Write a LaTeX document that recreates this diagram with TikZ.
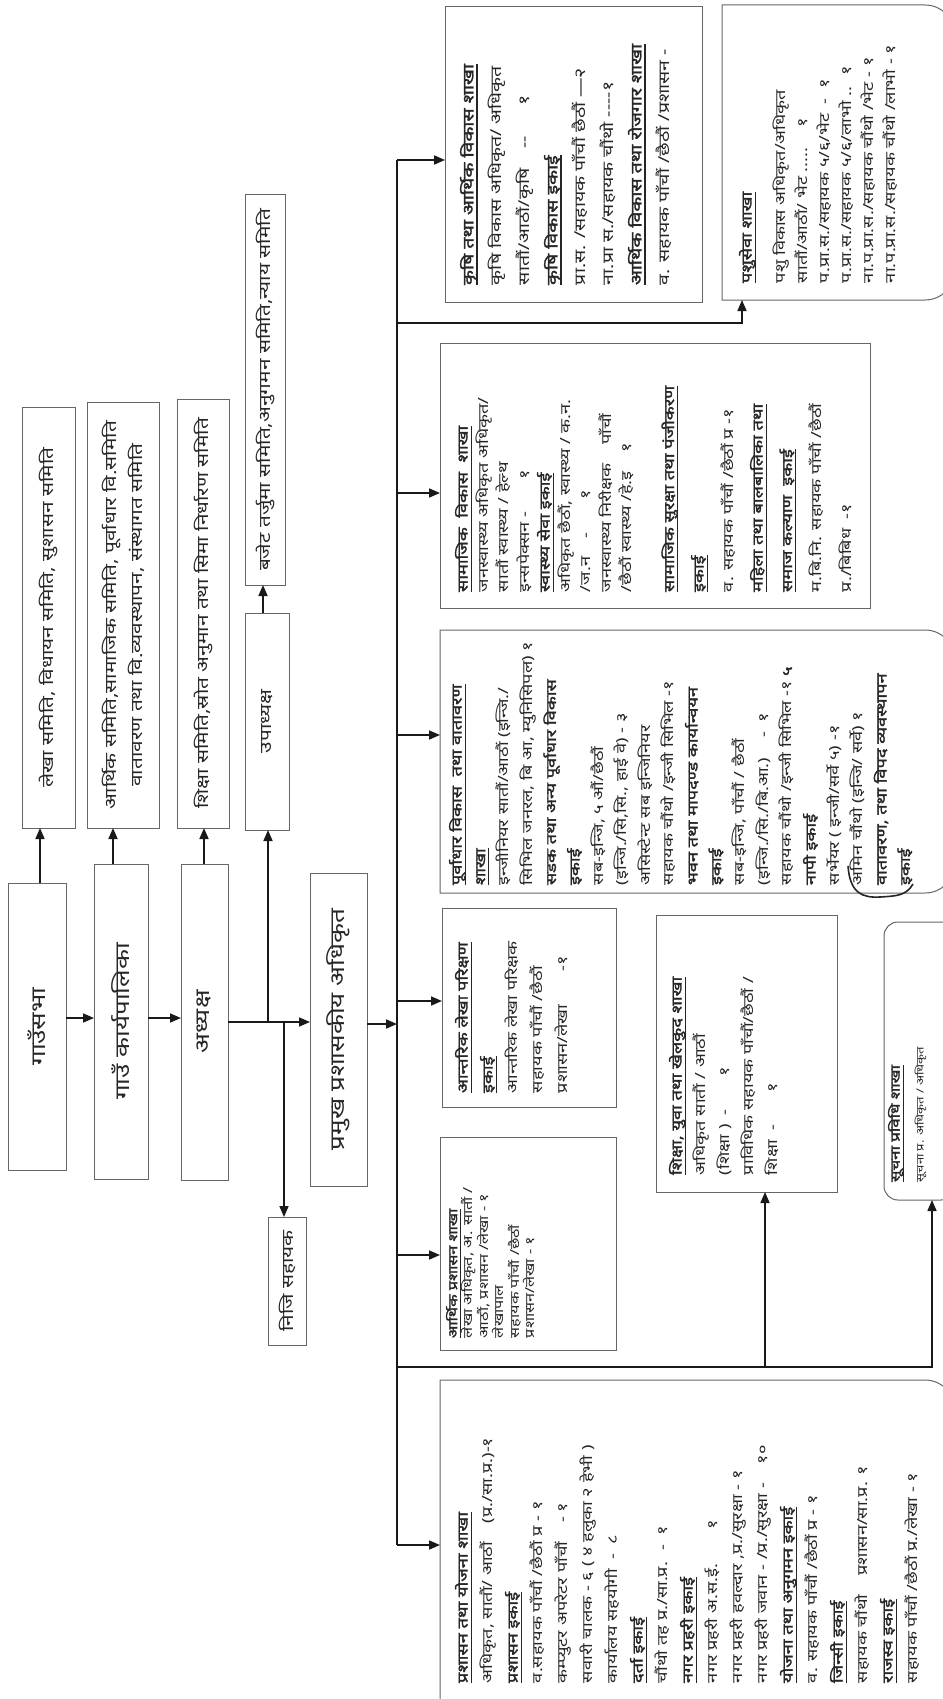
\documentclass[tikz,border=0pt]{standalone}
\usepackage{fontspec}
\setmainfont{Noto Sans}[Script=Devanagari]
\newfontfamily\wide{Noto Sans}[Script=Devanagari,FakeStretch=1.3,BoldFont={Noto Sans},BoldFeatures={FakeBold=2.2}]
\usetikzlibrary{arrows.meta,calc}
\newcommand\hd[1]{\setbox0\hbox{\bfseries #1}\leavevmode\rlap{\rule[-4.2pt]{\wd0}{1.2pt}}\box0}
\newcommand\bh[1]{{\bfseries #1}}
\newcommand\mkbox[6][]{\node[boxst,#1,minimum width={(#5-#3)*1pt},minimum height={(#6-#4)*1pt}] (#2) at ({(#3+#5)/2},{(#4+#6)/2}) {};}
\newcommand\rbox[2]{\draw[boxline] (#1.north west) [rounded corners=#2] -- (#1.north east) -- (#1.south east) [sharp corners] -- (#1.south west) -- cycle;}
\tikzset{
  boxline/.style={draw=black!60, line width=1pt},
  boxst/.style={boxline, inner sep=0pt, outer sep=0pt},
  conn/.style={line width=1.6pt, draw=black!90},
  arr/.style={conn, -{Triangle[length=11pt,width=9pt]}},
  vt/.style={rotate=90, anchor=north west, inner sep=0pt, outer sep=0pt, align=left, text=black!85},
  ctext/.style={rotate=90, inner sep=0pt, align=center, text=black!85},
  chainfont/.style={font={\wide\fontsize{20}{26}\selectfont}},
  comfont/.style={font={\wide\fontsize{16}{26}\selectfont}},
}
\begin{document}
\begin{tikzpicture}[x=1pt,y=-1pt]
\useasboundingbox (0,0) rectangle (942,1699);
\fill[white] (0,0) rectangle (942,1699);

% ---- upper chain ----
\mkbox{sabha}{8}{883}{66}{1170}
\mkbox{karya}{94}{864}{148}{1179}
\mkbox{adhy}{181}{864}{228}{1180}
\mkbox{pramukh}{310}{873}{367}{1186}
\mkbox{upa}{245}{613}{289}{830}
\mkbox{niji}{268}{1217}{306}{1345}
\mkbox{lekhas}{22}{407}{75}{828}
\mkbox{arths}{87}{402}{159}{828}
\mkbox{shiks}{177}{399}{229}{828}
\mkbox{bajet}{245}{195}{285}{585}

\node[ctext,chainfont] (sabha-t) at (sabha) {गाउँसभा};
\node[ctext,chainfont] (karya-t) at (karya) {गाउँ कार्यपालिका};
\node[ctext,chainfont] (adhy-t) at (adhy) {अध्यक्ष};
\node[ctext,chainfont] (pramukh-t) at (pramukh) {प्रमुख प्रशासकीय अधिकृत};
\node[ctext,comfont] (upa-t) at (upa) {उपाध्यक्ष};
\node[ctext,comfont] (niji-t) at (niji) {निजि सहायक};
\node[ctext,comfont] (lekhas-t) at (lekhas) {लेखा समिति, विधायन समिति, सुशासन समिति};
\node[ctext,comfont] (arths-t) at (arths) {आर्थिक समिति,सामाजिक समिति, पूर्वाधार वि.समिति\\वातावरण तथा वि.व्यवस्थापन, संस्थागत समिति};
\node[ctext,comfont] (shiks-t) at (shiks) {शिक्षा समिति,स्रोत अनुमान तथा सिमा निर्धारण समिति};
\node[ctext,comfont] (bajet-t) at (bajet) {बजेट तर्जुमा समिति,अनुगमन समिति,न्याय समिति};

\coordinate (r1) at (0,1018);
\coordinate (r2) at (0,1022);
\coordinate (j1) at (268,1022);
\coordinate (j2) at (284,1022);
\draw[arr] (sabha.east |- r1) -- (karya.west |- r1);
\draw[arr] (karya.east |- r1) -- (adhy.west |- r1);
\draw[arr] (adhy.east |- r2) -- (pramukh.west |- r2);
\draw[arr] (j1) -- (j1 |- upa.south);
\draw[arr] (j2) -- (j2 |- niji.north);
\draw[arr] (sabha.north -| 40,0) -- (lekhas.south -| 40,0);
\draw[arr] (karya.north -| 113,0) -- (arths.south -| 113,0);
\draw[arr] (adhy.north -| 204,0) -- (shiks.south -| 204,0);
\draw[arr] (upa.north -| 263,0) -- (bajet.south -| 263,0);

% ---- lower boxes ----
\mkbox{krishi}{445}{7}{702}{302}
\mkbox[draw=none]{pashu}{722}{5}{955}{300}
\rbox{pashu}{30pt}
\mkbox{samaj}{440}{343}{870}{608}
\mkbox[draw=none]{purva}{440}{630}{955}{893}
\rbox{purva}{30pt}
\mkbox{antarik}{442}{908}{616}{1107}
\mkbox{shiksha}{656}{915}{837}{1192}
\mkbox[draw=none]{suchana}{884}{922}{955}{1200}
\draw[boxline,rounded corners=14pt] (suchana.north west) rectangle (suchana.south east);
\mkbox{arthik}{440}{1137}{616}{1350}
\mkbox[draw=none]{prashasan}{440}{1380}{955}{1730}
\rbox{prashasan}{30pt}

% ---- bus ----
\coordinate (btop) at (397,160);
\coordinate (bbot) at (397,1545);
\coordinate (bp) at (397,1024);
\coordinate (b2) at (397,493);
\coordinate (b3) at (397,735);
\coordinate (b4) at (397,1001);
\coordinate (b5) at (397,1255);
\coordinate (bl1) at (397,323);
\coordinate (bl2) at (397,1367);
\draw[conn,line width=2pt] (btop) -- (bbot);
\draw[arr] (pramukh.east |- bp) -- (bp);
\draw[arr] (btop) -- (btop -| krishi.west);
\draw[arr] (b2) -- (b2 -| samaj.west);
\draw[arr] (b3) -- (b3 -| purva.west);
\draw[arr] (b4) -- (b4 -| antarik.west);
\draw[arr] (b5) -- (b5 -| arthik.west);
\draw[arr] (bbot) -- (bbot -| prashasan.west);
\draw[arr] (bl1) -| (pashu.south -| 742,0);
\draw[arr] (bl2) -| (suchana.south -| 932,0);
\draw[arr] (bl2 -| 765,0) -- (shiksha.south -| 765,0);

% ---- box texts ----
\node[vt,font={\wide\fontsize{15}{28}\selectfont}] (krishi-t) at (460,285) {%
\hd{कृषि तथा आर्थिक विकास शाखा}\\
कृषि विकास अधिकृत/ अधिकृत\\
सातौं/आठौं/कृषि \quad --\qquad १\\
\hd{कृषि विकास इकाई}\\
प्रा.स. /सहायक पाँचौं छैठौं —२\\
ना.प्रा स./सहायक चौंथो ----१\\
\hd{आर्थिक विकास तथा रोजगार शाखा}\\
व. सहायक पाँचौं /छैठौं /प्रशासन -};

\node[vt,font={\wide\fontsize{14}{22}\selectfont}] (pashu-t) at (739,283) {%
\hd{पशुसेवा शाखा}\\[12pt]
पशु विकास अधिकृत/अधिकृत\\
सातौं/आठौं/ भेट ..... \quad १\\
प.प्रा.स./सहायक ५/६/भेट \ - \ १\\
प.प्रा.स./सहायक ५/६/लाभो .. \ १\\
ना.प.प्रा.स./सहायक चौंथो /भेट - १\\
ना.प.प्रा.स./सहायक चौंथो /लाभो - १};

\node[vt,font={\wide\fontsize{14}{20.5}\selectfont}] (samaj-t) at (455,592) {%
\hd{सामाजिक \ विकास \ शाखा}\\
जनस्वास्थ्य अधिकृत अधिकृत/\\
सातौं स्वास्थ्य / हेल्थ\\
इन्सपेक्सन - \qquad १\\
\hd{स्वास्थ्य सेवा इकाई}\\
अधिकृत छैठौं, स्वास्थ्य / क.न.\\
/ज.न \quad - \qquad १\\
जनस्वास्थ्य निरीक्षक \quad पाँचौं\\
/छैठौं स्वास्थ्य /हे.इ \quad १\\[22pt]
\hd{सामाजिक सुरक्षा तथा पंजीकरण}\\[9pt]
\hd{इकाई}\\[9pt]
व. सहायक पाँचौं /छैठौं प्र -१\\[9pt]
\hd{महिला तथा बालबालिका तथा}\\[9pt]
\hd{समाज कल्याण \ इकाई}\\[9pt]
म.बि.नि. सहायक पाँचौं /छैठौं\\[9pt]
प्र./बिबिध \ -१};

\node[vt,font={\wide\fontsize{14}{23.6}\selectfont}] (purva-t) at (449,885) {%
\hd{पूर्वाधार विकास \ तथा वातावरण}\\
\hd{शाखा}\\
इन्जीनियर सातौं/आठौं (इन्जि./\\
सिभिल जनरल, बि आ, म्युनिसिपल) १\\
\bh{सडक तथा अन्य पूर्वाधार विकास}\\
\bh{इकाई}\\
सब-इन्जि, ५ औं/छैठौं\\
(इन्जि./सि,सि., हाई वे) - ३\\
असिस्टेन्ट सब इन्जिनियर\\
सहायक चौंथो /इन्जी सिभिल -१\\
\bh{भवन तथा मापदण्ड कार्यान्वयन}\\
\bh{इकाई}\\
सब-इन्जि, पाँचौं / छैठौं\\
(इन्जि./सि./बि.आ.) \quad - \ १\\
सहायक चौंथो /इन्जी सिभिल -१ \textbf{५}\\
\bh{नापी इकाई}\\
सर्भेयर ( इन्जी/सर्वे ५) -१\\
अमिन चौंथो (इन्जि/ सर्वे) १\\
\bh{वातावरण, तथा विपद व्यवस्थापन}\\
\bh{इकाई}};
\draw[line width=1.6pt,black!85] (848,866) .. controls (850,893) and (862,898) .. (880,897) .. controls (896,896) and (906,896) .. (913,884);

\node[vt,font={\wide\fontsize{14}{25}\selectfont}] (antarik-t) at (455,1093) {%
\hd{आन्तरिक लेखा परिक्षण}\\
\hd{इकाई}\\
आन्तरिक लेखा परिक्षक\\
सहायक पाँचौं /छैठौं\\
प्रशासन/लेखा \qquad -१};

\node[vt,font={\wide\fontsize{14}{24}\selectfont}] (shiksha-t) at (669,1175) {%
\hd{शिक्षा, युवा तथा खेलकुद शाखा}\\
अधिकृत सातौं / आठौं\\
(शिक्षा ) \ - \qquad १\\
प्राविधिक सहायक पाँचौं/छैठौं /\\
शिक्षा \ - \qquad १};

\node[vt,font={\wide\fontsize{13}{24}\selectfont}] (suchana-t) at (888,1182) {%
\hd{सूचना प्रविधि शाखा}\\
{\fontsize{10}{12}\selectfont सूचना प्र. अधिकृत / अधिकृत}};

\node[vt,font={\wide\fontsize{12.5}{15.5}\selectfont}] (arthik-t) at (446,1338) {%
\hd{आर्थिक प्रशासन शाखा}\\
लेखा अधिकृत, अ. सातौं /\\
आठौं, प्रशासन /लेखा - १\\
लेखापाल\\
सहायक पाँचौं /छैठौं\\
प्रशासन/लेखा - १};

\node[vt,font={\wide\fontsize{14}{25}\selectfont}] (prashasan-t) at (455,1683) {%
\hd{प्रशासन तथा योजना शाखा}\\
अधिकृत, सातौं/ आठौं \quad (प्र./सा.प्र.)-१\\
\hd{प्रशासन इकाई}\\
व.सहायक पाँचौं /छैठौं प्र - १\\
कम्प्युटर अपरेटर पाँचौं \quad - १\\
सवारी चालक - ६ ( ४ हलुका २ हेभी )\\
कार्यालय सहयोगी \ - \ ८\\
\hd{दर्ता इकाई}\\
चौंथो तह प्र./सा.प्र. \ - \ १\\
\hd{नगर प्रहरी इकाई}\\
नगर प्रहरी अ.स.ई. \qquad १\\
नगर प्रहरी हवल्दार ,प्र./सुरक्षा - १\\
नगर प्रहरी जवान - /प्र./सुरक्षा - \quad १०\\
\hd{योजना तथा अनुगमन इकाई}\\
व. सहायक पाँचौं /छैठौं प्र - १\\
\hd{जिन्सी इकाई}\\
सहायक चौंथो \quad प्रशासन/सा.प्र. १\\
\hd{राजस्व इकाई}\\
सहायक पाँचौं /छैठौं प्र./लेखा - १};
\end{tikzpicture}
\end{document}
